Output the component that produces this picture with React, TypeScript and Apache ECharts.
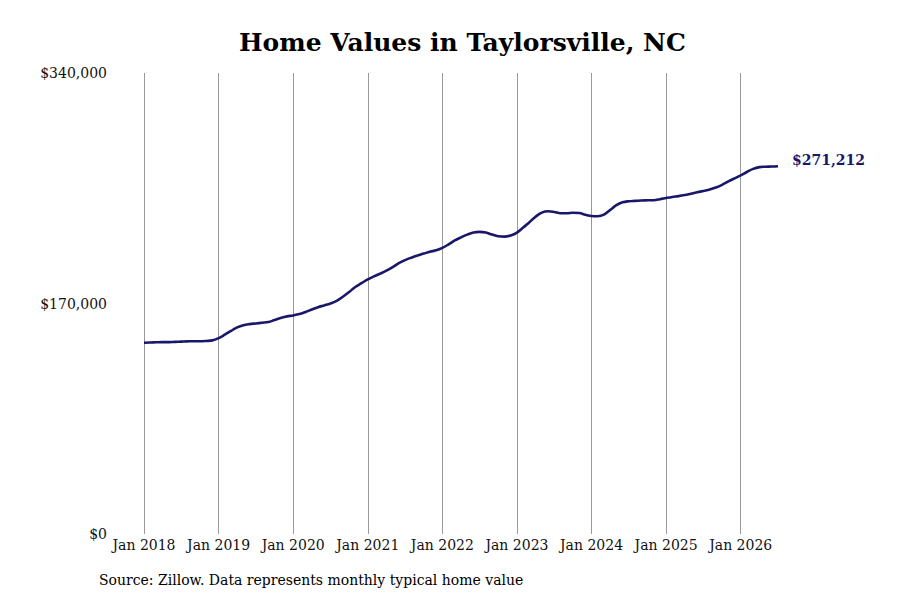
import React, { useEffect, useRef } from "react";
import * as echarts from "echarts";

const years = [2018, 2019, 2020, 2021, 2022, 2023, 2024, 2025, 2026];
const monthNames = ["Jan", "Feb", "Mar", "Apr", "May", "Jun", "Jul", "Aug", "Sep", "Oct", "Nov", "Dec"];

// monthly typical home value, Jan 2018 - Jul 2026
const values2018 = [141100, 141200, 141400, 141500, 141500, 141700, 141900, 142100, 142200, 142200, 142400, 142800];
const values2019 = [144500, 147000, 149800, 152400, 154000, 154800, 155300, 155800, 156300, 157800, 159300, 160500];
const values2020 = [161200, 162200, 163800, 165600, 167300, 168600, 170000, 172000, 175000, 178500, 182200, 185000];
const values2021 = [187800, 190000, 192000, 194200, 196800, 199700, 202000, 203800, 205400, 206800, 208200, 209200];
const values2022 = [211000, 213600, 216500, 218800, 220800, 222300, 222800, 222300, 220800, 219600, 219300, 220200];
const values2023 = [222300, 226000, 230000, 234000, 237000, 238000, 237500, 236600, 236600, 236900, 236700, 235500];
const values2024 = [234500, 234300, 235500, 239000, 242500, 244600, 245400, 245700, 246000, 246100, 246200, 246900];
const values2025 = [247800, 248600, 249200, 250000, 251000, 252000, 253000, 254000, 255500, 257500, 260000, 262300];
const values2026 = [264500, 267000, 269300, 270600, 270900, 271000, 271212];

const yTicks = [0, 170000, 340000];

const values = [
  ...values2018, ...values2019, ...values2020, ...values2021, ...values2022,
  ...values2023, ...values2024, ...values2025, ...values2026,
];

const categories: string[] = [];
years.forEach((y) => {
  monthNames.forEach((m) => {
    if (categories.length < values.length) categories.push(`${m} ${y}`);
  });
});

const font = "'DejaVu Serif', serif";
const money = (v: number) => "$" + v.toLocaleString("en-US");
const isJan = (i: number) => i % 12 === 0;
const navy = "#19176a";

const App = () => {
  const chartRef = useRef<HTMLDivElement>(null);

  useEffect(() => {
    if (!chartRef.current) return;
    const chart = echarts.init(chartRef.current, null, { renderer: "svg" });

    chart.setOption({
      animation: false,
      backgroundColor: "#fff",
      title: {
        text: "Home Values in Taylorsville, NC",
        left: 234,
        top: 25,
        textStyle: { fontFamily: font, fontSize: 25, fontWeight: "bold", color: "#000" },
      },
      grid: { left: 144, right: 122, top: 73, bottom: 66, containLabel: false },
      xAxis: {
        type: "category",
        data: categories,
        boundaryGap: false,
        axisLine: { show: false },
        axisTick: { show: false },
        axisLabel: {
          interval: (i: number) => isJan(i),
          fontFamily: font,
          fontSize: 14,
          color: "#111",
          margin: 4,
        },
        splitLine: {
          show: true,
          interval: (i: number) => isJan(i),
          lineStyle: { color: "#999", width: 1 },
        },
      },
      yAxis: {
        type: "value",
        min: yTicks[0],
        max: yTicks[yTicks.length - 1],
        interval: yTicks[1] - yTicks[0],
        axisLine: { show: false },
        axisTick: { show: false },
        splitLine: { show: false },
        axisLabel: {
          formatter: (v: number) => money(v),
          fontFamily: font,
          fontSize: 14,
          color: "#111",
          margin: 37,
        },
      },
      series: [
        {
          type: "line",
          data: values,
          smooth: 0.4,
          showSymbol: false,
          lineStyle: { color: navy, width: 2.6 },
          itemStyle: { color: navy },
          endLabel: {
            show: true,
            formatter: (p: any) => money(p.value),
            fontFamily: font,
            fontSize: 14,
            fontWeight: "bold",
            color: navy,
            distance: 14,
            offset: [0, -6],
          },
        },
      ],
      graphic: [
        {
          type: "text",
          left: 99,
          top: 573,
          style: {
            text: "Source: Zillow. Data represents monthly typical home value",
            font: `14px ${font}`,
            fill: "#000",
          },
        },
      ],
    });

    return () => {
      chart.dispose();
    };
  }, []);

  return <div ref={chartRef} style={{ width: 900, height: 600, margin: -8 }} />;
};

export default App;
